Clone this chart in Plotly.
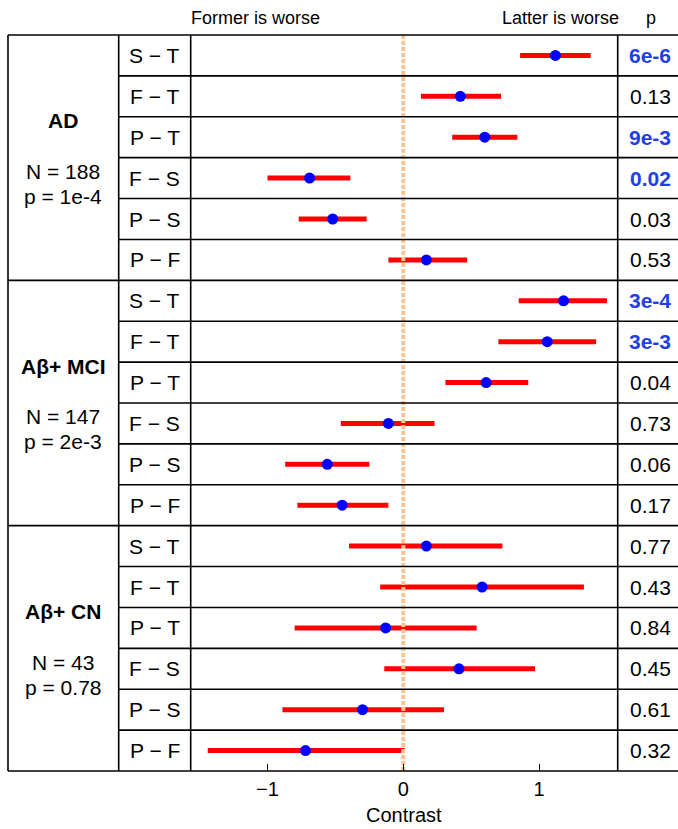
import plotly.graph_objects as go

W, H = 678, 829

# ---------------- data ----------------
groups = ["AD", "Aβ+ MCI", "Aβ+ CN"]
group_n = ["N = 188", "N = 147", "N = 43"]
group_p = ["p = 1e-4", "p = 2e-3", "p = 0.78"]
comparisons = ["S − T", "F − T", "P − T", "F − S", "P − S", "P − F"]

estimate = [1.12, 0.42, 0.60, -0.69, -0.52, 0.17,
            1.18, 1.06, 0.61, -0.11, -0.56, -0.45,
            0.17, 0.58, -0.13, 0.41, -0.30, -0.72]
lower = [0.86, 0.13, 0.36, -1.00, -0.77, -0.11,
         0.85, 0.70, 0.31, -0.46, -0.87, -0.78,
         -0.40, -0.17, -0.80, -0.14, -0.89, -1.44]
upper = [1.38, 0.72, 0.84, -0.39, -0.27, 0.47,
         1.50, 1.42, 0.92, 0.23, -0.25, -0.11,
         0.73, 1.33, 0.54, 0.97, 0.30, 0.01]
p_values = ["6e-6", "0.13", "9e-3", "0.02", "0.03", "0.53",
            "3e-4", "3e-3", "0.04", "0.73", "0.06", "0.17",
            "0.77", "0.43", "0.84", "0.45", "0.61", "0.32"]
p_significant = [True, False, True, True, False, False,
                 True, True, False, False, False, False,
                 False, False, False, False, False, False]
x_ticks = [-1, 0, 1]

# ---------------- geometry (pixels) ----------------
X_LEFT, X_COMP, X_PLOT0, X_PLOT1, X_RIGHT = 8, 118.7, 190.7, 617.7, 678
Y_TOP, Y_BOT = 35, 771
n_rows = len(estimate)


def px(x):
    return x / W


def py(y):
    return 1 - y / H


rows = list(range(1, n_rows + 1))

fig = go.Figure()

# CI segments
xs, ys = [], []
for r, lo, hi in zip(rows, lower, upper):
    xs += [lo, hi, None]
    ys += [r, r, None]
fig.add_trace(go.Scatter(x=xs, y=ys, mode="lines",
                         line=dict(color="#FF0000", width=5),
                         hoverinfo="skip", showlegend=False))

# zero reference line (dotted)
fig.add_trace(go.Scatter(x=[0, 0], y=[0.5, n_rows + 0.5], mode="lines",
                         line=dict(color="#FDC58E", width=4, dash="4px,2px"),
                         hoverinfo="skip", showlegend=False))

# point estimates
fig.add_trace(go.Scatter(x=estimate, y=rows, mode="markers",
                         marker=dict(color="#0000FF", size=11),
                         showlegend=False))

shapes = []
LC = "black"
LW = 1.6
shapes.append(dict(type="line", xref="paper", yref="paper",
                   x0=px(X_LEFT), x1=px(X_RIGHT), y0=py(Y_TOP), y1=py(Y_TOP),
                   line=dict(color=LC, width=LW)))
shapes.append(dict(type="line", xref="paper", yref="paper",
                   x0=px(X_LEFT), x1=px(X_RIGHT), y0=py(Y_BOT), y1=py(Y_BOT),
                   line=dict(color=LC, width=LW)))
for xv in [X_LEFT, X_COMP, X_PLOT0, X_PLOT1]:
    shapes.append(dict(type="line", xref="paper", yref="paper",
                       x0=px(xv), x1=px(xv), y0=py(Y_TOP), y1=py(Y_BOT),
                       line=dict(color=LC, width=LW)))
for k in range(1, n_rows):
    x0 = X_LEFT if k % 6 == 0 else X_COMP
    shapes.append(dict(type="line", xref="paper", yref="y",
                       x0=px(x0), x1=px(X_RIGHT), y0=k + 0.5, y1=k + 0.5,
                       line=dict(color=LC, width=LW)))

annotations = []
FONT = "Liberation Sans, Arial, sans-serif"
for i, r in enumerate(rows):
    annotations.append(dict(text=comparisons[i % 6], xref="paper", yref="y",
                            x=px(154.7), y=r, showarrow=False,
                            xanchor="center", yanchor="middle",
                            font=dict(family=FONT, size=21, color="black")))
    if p_significant[i]:
        txt = "<b>" + p_values[i] + "</b>"
        col = "#1F3FE6"
    else:
        txt = p_values[i]
        col = "black"
    annotations.append(dict(text=txt, xref="paper", yref="y",
                            x=px(650), y=r, showarrow=False,
                            xanchor="center", yanchor="middle",
                            font=dict(family=FONT, size=21, color=col)))

for g in range(3):
    c = 6 * g + 3.5
    annotations.append(dict(text="<b>" + groups[g] + "</b>", xref="paper", yref="y",
                            x=px(63.4), y=c - 0.9, showarrow=False,
                            xanchor="center", yanchor="middle",
                            font=dict(family=FONT, size=21, color="black")))
    annotations.append(dict(text=group_n[g], xref="paper", yref="y",
                            x=px(63.4), y=c + 0.34, showarrow=False,
                            xanchor="center", yanchor="middle",
                            font=dict(family=FONT, size=21, color="black")))
    annotations.append(dict(text=group_p[g], xref="paper", yref="y",
                            x=px(63.4), y=c + 0.95, showarrow=False,
                            xanchor="center", yanchor="middle",
                            font=dict(family=FONT, size=21, color="black")))

annotations.append(dict(text="Former is worse", xref="paper", yref="paper",
                        x=px(189), y=py(18), showarrow=False,
                        xanchor="left", yanchor="middle",
                        font=dict(family=FONT, size=18, color="black")))
annotations.append(dict(text="Latter is worse", xref="paper", yref="paper",
                        x=px(621), y=py(18), showarrow=False,
                        xanchor="right", yanchor="middle",
                        font=dict(family=FONT, size=18, color="black")))
annotations.append(dict(text="p", xref="paper", yref="paper",
                        x=px(651), y=py(18), showarrow=False,
                        xanchor="center", yanchor="middle",
                        font=dict(family=FONT, size=18, color="black")))
annotations.append(dict(text="Contrast", xref="paper", yref="paper",
                        x=px(404), y=py(815), showarrow=False,
                        xanchor="center", yanchor="middle",
                        font=dict(family=FONT, size=20, color="black")))

fig.update_layout(
    width=W, height=H,
    margin=dict(l=0, r=0, t=0, b=0),
    paper_bgcolor="white", plot_bgcolor="white",
    shapes=shapes, annotations=annotations,
    xaxis=dict(domain=[px(X_PLOT0), px(X_PLOT1)],
               range=[-1.5655, 1.5788],
               tickvals=x_ticks, ticktext=["−1", "0", "1"],
               ticks="inside", ticklen=7, tickwidth=1.3, tickcolor="black",
               ticklabelstandoff=4,
               showgrid=False, zeroline=False, showline=False,
               tickfont=dict(family=FONT, size=20, color="black")),
    yaxis=dict(domain=[py(Y_BOT), py(Y_TOP)],
               range=[n_rows + 0.5, 0.5],
               showticklabels=False, showgrid=False, zeroline=False,
               showline=False, ticks=""),
)

fig.write_html("out.html")
